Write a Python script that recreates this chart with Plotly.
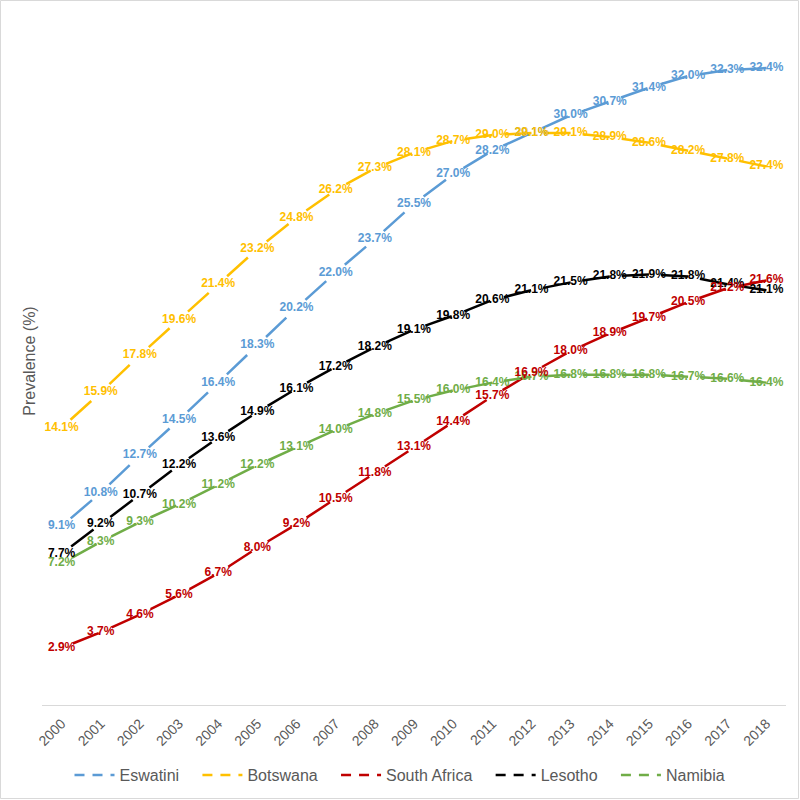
import plotly.graph_objects as go

years = list(range(2000, 2019))
year_labels = [str(y) for y in years]

eswatini = [9.1, 10.8, 12.7, 14.5, 16.4, 18.3, 20.2, 22.0, 23.7, 25.5, 27.0, 28.2, 29.1, 30.0, 30.7, 31.4, 32.0, 32.3, 32.4]
botswana = [14.1, 15.9, 17.8, 19.6, 21.4, 23.2, 24.8, 26.2, 27.3, 28.1, 28.7, 29.0, 29.1, 29.1, 28.9, 28.6, 28.2, 27.8, 27.4]
south_africa = [2.9, 3.7, 4.6, 5.6, 6.7, 8.0, 9.2, 10.5, 11.8, 13.1, 14.4, 15.7, 16.9, 18.0, 18.9, 19.7, 20.5, 21.2, 21.6]
lesotho = [7.7, 9.2, 10.7, 12.2, 13.6, 14.9, 16.1, 17.2, 18.2, 19.1, 19.8, 20.6, 21.1, 21.5, 21.8, 21.9, 21.8, 21.4, 21.1]
namibia = [7.2, 8.3, 9.3, 10.2, 11.2, 12.2, 13.1, 14.0, 14.8, 15.5, 16.0, 16.4, 16.7, 16.8, 16.8, 16.8, 16.7, 16.6, 16.4]

series_names = ["Eswatini", "Botswana", "South Africa", "Lesotho", "Namibia"]
series_values = {"Eswatini": eswatini, "Botswana": botswana, "South Africa": south_africa,
                 "Lesotho": lesotho, "Namibia": namibia}
series_colors = {"Eswatini": "#5B9BD5", "Botswana": "#FFC000", "South Africa": "#C00000",
                 "Lesotho": "#000000", "Namibia": "#70AD47"}
draw_order = ["Eswatini", "Botswana", "Lesotho", "Namibia", "South Africa"]

LABEL_FONT = "Liberation Sans, Arial, sans-serif"
AXIS_FONT = "Liberation Sans, Arial, sans-serif"
GRAY = "#595959"

fig = go.Figure()

# line segments (dash pattern restarts at each point, like the original)
for name in draw_order:
    vals = series_values[name]
    for i in range(len(years) - 1):
        fig.add_trace(go.Scatter(
            x=years[i:i + 2], y=vals[i:i + 2], mode="lines",
            line=dict(color=series_colors[name], width=2.5, dash="0px,12px,28px,200px"),
            showlegend=False, hoverinfo="skip"))

# data labels
for name in draw_order:
    vals = series_values[name]
    fig.add_trace(go.Scatter(
        x=years, y=vals, mode="text",
        text=[f"{v:.1f}%" for v in vals], textposition="middle center",
        textfont=dict(family=LABEL_FONT, size=12, color=series_colors[name], weight="bold"),
        showlegend=False, hoverinfo="skip"))

# legend entries
pad = "\u00a0" * 3
for rank, name in enumerate(series_names):
    label = name + (pad if rank < len(series_names) - 1 else "")
    fig.add_trace(go.Scatter(
        x=[None], y=[None], mode="lines", name=label,
        line=dict(color=series_colors[name], width=2.5, dash="10px,8px"),
        legendrank=rank + 1))

W, H = 800, 800
ML, MR, MT, MB = 42, 14, 17, 95
pw, ph = W - ML - MR, H - MT - MB

fig.update_layout(
    width=W, height=H,
    margin=dict(l=ML, r=MR, t=MT, b=MB, autoexpand=False),
    plot_bgcolor="white", paper_bgcolor="white",
    showlegend=True,
    legend=dict(orientation="h", xref="container", yref="container", x=0.5, xanchor="center",
                y=25 / H, yanchor="middle", font=dict(family=AXIS_FONT, size=16, color=GRAY),
                itemwidth=40, traceorder="normal"),
    xaxis=dict(range=[1999.5, 2018.5], tickmode="array", tickvals=years, ticktext=year_labels,
               tickangle=-45, showline=True, linecolor="#D9D9D9", linewidth=1,
               showgrid=False, zeroline=False, ticks="", ticklabelstandoff=4,
               tickfont=dict(family=AXIS_FONT, size=14, color=GRAY)),
    yaxis=dict(range=[0, 35], showticklabels=False, showgrid=False, zeroline=False,
               showline=False, ticks="",
               title=dict(text="Prevalence (%)", standoff=1,
                          font=dict(family=AXIS_FONT, size=16, color=GRAY))),
    shapes=[dict(type="rect", xref="paper", yref="paper",
                 x0=(0.5 - ML) / pw, x1=(W - 1.5 - ML) / pw,
                 y0=-(H - 1.5 - (H - MB)) / ph, y1=((H - MB) - 0.5) / ph,
                 line=dict(color="#D9D9D9", width=1), fillcolor="rgba(0,0,0,0)", layer="below")],
)

fig.write_html("out.html", config={"displayModeBar": False},
               post_script="document.body.style.margin='0px';")
